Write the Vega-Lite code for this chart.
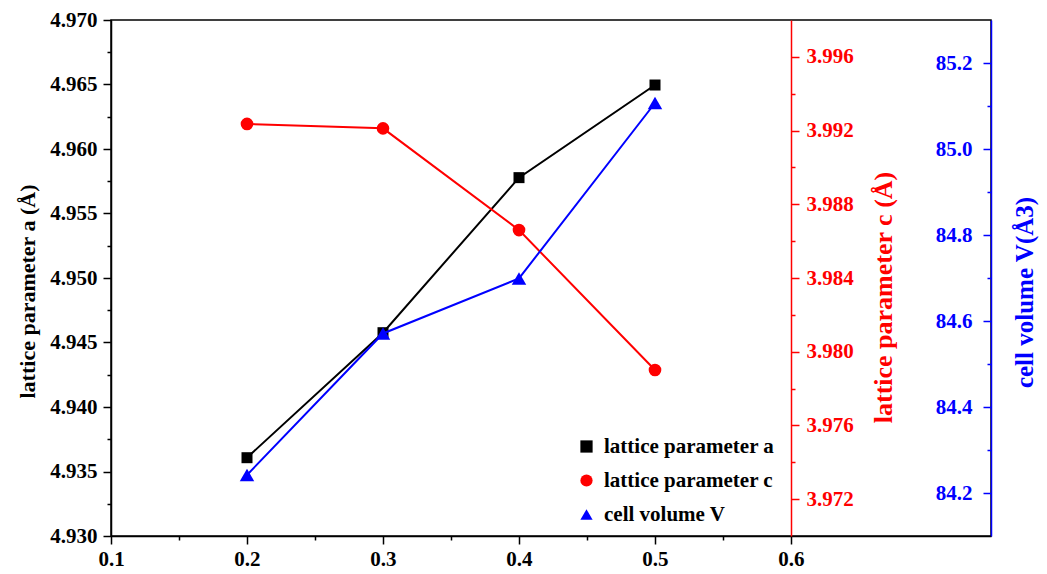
{
  "$schema": "https://vega.github.io/schema/vega-lite/v6.json",
  "autosize": {"type": "none"},
  "padding": {"left": 111, "top": 20, "right": 56, "bottom": 38},
  "width": 880,
  "height": 516,
  "background": "white",
  "config": {
    "view": {"stroke": "black", "strokeWidth": 1.5},
    "axis": {
      "labelFont": "Liberation Serif",
      "labelFontWeight": "bold",
      "labelFontSize": 21,
      "titleFont": "Liberation Serif",
      "titleFontWeight": "bold",
      "grid": false,
      "domainWidth": 1.5,
      "tickWidth": 1.5
    },
    "legend": {
      "labelFont": "Liberation Serif",
      "labelFontWeight": "bold",
      "labelFontSize": 21,
      "labelLimit": 0
    }
  },
  "data": {
    "values": [
      {"x": 0.2, "series": "lattice parameter a", "value": 4.93607},
      {"x": 0.3, "series": "lattice parameter a", "value": 4.94576},
      {"x": 0.4, "series": "lattice parameter a", "value": 4.95778},
      {"x": 0.5, "series": "lattice parameter a", "value": 4.96496},
      {"x": 0.2, "series": "lattice parameter c", "value": 3.99236},
      {"x": 0.3, "series": "lattice parameter c", "value": 3.99212},
      {"x": 0.4, "series": "lattice parameter c", "value": 3.98660},
      {"x": 0.5, "series": "lattice parameter c", "value": 3.97901},
      {"x": 0.2, "series": "cell volume V", "value": 84.242},
      {"x": 0.3, "series": "cell volume V", "value": 84.571},
      {"x": 0.4, "series": "cell volume V", "value": 84.699},
      {"x": 0.5, "series": "cell volume V", "value": 85.107}
    ]
  },
  "encoding": {
    "x": {
      "field": "x",
      "type": "quantitative",
      "scale": {"domain": [0.1, 0.74706], "nice": false, "zero": false},
      "axis": {
        "title": null,
        "values": [0.1, 0.15, 0.2, 0.25, 0.3, 0.35, 0.4, 0.45, 0.5, 0.55, 0.6],
        "labelExpr": "round(datum.value*100) % 10 === 0 ? format(datum.value, '.1f') : ''",
        "tickSize": {"condition": {"test": "round(datum.value*100) % 10 === 0", "value": 8}, "value": 4},
        "domainColor": "black",
        "tickColor": "black",
        "labelColor": "black",
        "labelPadding": 4,
        "labelFlush": false
      }
    }
  },
  "layer": [
    {
      "transform": [{"filter": "datum.series === 'lattice parameter a'"}],
      "encoding": {
        "y": {
          "field": "value",
          "type": "quantitative",
          "scale": {"domain": [4.93, 4.97], "nice": false, "zero": false},
          "axis": {
            "orient": "left",
            "title": "lattice parameter a (Å)",
            "titleFontSize": 22,
            "titleColor": "black",
            "titleX": -84,
            "titleY": 271,
            "titleAngle": 270,
            "titleAlign": "center",
            "titleBaseline": "middle",
            "values": [4.93, 4.9325, 4.935, 4.9375, 4.94, 4.9425, 4.945, 4.9475, 4.95, 4.9525, 4.955, 4.9575, 4.96, 4.9625, 4.965, 4.9675, 4.97],
            "labelExpr": "round(datum.value*1000) % 5 === 0 ? format(datum.value, '.3f') : ''",
            "tickSize": {"condition": {"test": "round(datum.value*1000) % 5 === 0", "value": 8}, "value": 4},
            "domainColor": "black",
            "tickColor": "black",
            "labelColor": "black",
            "labelPadding": 6,
            "labelFlush": false
          }
        }
      },
      "layer": [
        {"mark": {"type": "line", "color": "black", "strokeWidth": 2}},
        {
          "mark": {"type": "point", "filled": true, "opacity": 1, "size": 121},
          "encoding": {
            "color": {"field": "series", "type": "nominal"},
            "shape": {"field": "series", "type": "nominal"}
          }
        }
      ]
    },
    {
      "transform": [{"filter": "datum.series === 'lattice parameter c'"}],
      "encoding": {
        "y": {
          "field": "value",
          "type": "quantitative",
          "scale": {"domain": [3.97, 3.998], "nice": false, "zero": false},
          "axis": {
            "orient": "right",
            "offset": -200,
            "title": "lattice parameter c (Å)",
            "titleFontSize": 26,
            "titleColor": "#ff0000",
            "titleX": 92,
            "titleY": 277,
            "titleAngle": 270,
            "titleAlign": "center",
            "titleBaseline": "middle",
            "values": [3.972, 3.974, 3.976, 3.978, 3.98, 3.982, 3.984, 3.986, 3.988, 3.99, 3.992, 3.994, 3.996],
            "labelExpr": "round(datum.value*1000) % 4 === 0 ? format(datum.value, '.3f') : ''",
            "tickSize": {"condition": {"test": "round(datum.value*1000) % 4 === 0", "value": 8}, "value": 4},
            "domainColor": "#ff0000",
            "tickColor": "#ff0000",
            "labelColor": "#ff0000",
            "labelPadding": 7,
            "labelFlush": false
          }
        }
      },
      "layer": [
        {"mark": {"type": "line", "color": "#ff0000", "strokeWidth": 2}},
        {
          "mark": {"type": "point", "filled": true, "opacity": 1, "size": 160},
          "encoding": {
            "color": {"field": "series", "type": "nominal"},
            "shape": {"field": "series", "type": "nominal"}
          }
        }
      ]
    },
    {
      "transform": [{"filter": "datum.series === 'cell volume V'"}],
      "encoding": {
        "y": {
          "field": "value",
          "type": "quantitative",
          "scale": {"domain": [84.1, 85.3], "nice": false, "zero": false},
          "axis": {
            "orient": "left",
            "offset": -880,
            "title": "cell volume V(Å3)",
            "titleFontSize": 25,
            "titleColor": "#0000ff",
            "titleX": 33,
            "titleY": 272,
            "titleAngle": 270,
            "titleAlign": "center",
            "titleBaseline": "middle",
            "values": [84.2, 84.3, 84.4, 84.5, 84.6, 84.7, 84.8, 84.9, 85.0, 85.1, 85.2],
            "labelExpr": "round(datum.value*10) % 2 === 0 ? format(datum.value, '.1f') : ''",
            "tickSize": {"condition": {"test": "round(datum.value*10) % 2 === 0", "value": 8}, "value": 4},
            "domainColor": "#0000ff",
            "tickColor": "#0000ff",
            "labelColor": "#0000ff",
            "labelPadding": 11,
            "labelFlush": false
          }
        }
      },
      "layer": [
        {"mark": {"type": "line", "color": "#0000ff", "strokeWidth": 2}},
        {
          "mark": {"type": "point", "filled": true, "opacity": 1, "size": 210},
          "encoding": {
            "color": {
              "field": "series",
              "type": "nominal",
              "scale": {
                "domain": ["lattice parameter a", "lattice parameter c", "cell volume V"],
                "range": ["#000000", "#ff0000", "#0000ff"]
              },
              "legend": {
                "title": null,
                "orient": "none",
                "legendX": 465,
                "legendY": 416,
                "padding": 0,
                "rowPadding": 12,
                "labelOffset": 7,
                "symbolSize": 150,
                "symbolStrokeWidth": 0,
                "encode": {"labels": {"update": {"fill": {"scale": "color", "field": "value"}}}}
              }
            },
            "shape": {
              "field": "series",
              "type": "nominal",
              "scale": {
                "domain": ["lattice parameter a", "lattice parameter c", "cell volume V"],
                "range": ["square", "circle", "triangle-up"]
              }
            }
          }
        }
      ]
    }
  ],
  "resolve": {"scale": {"y": "independent"}}
}
